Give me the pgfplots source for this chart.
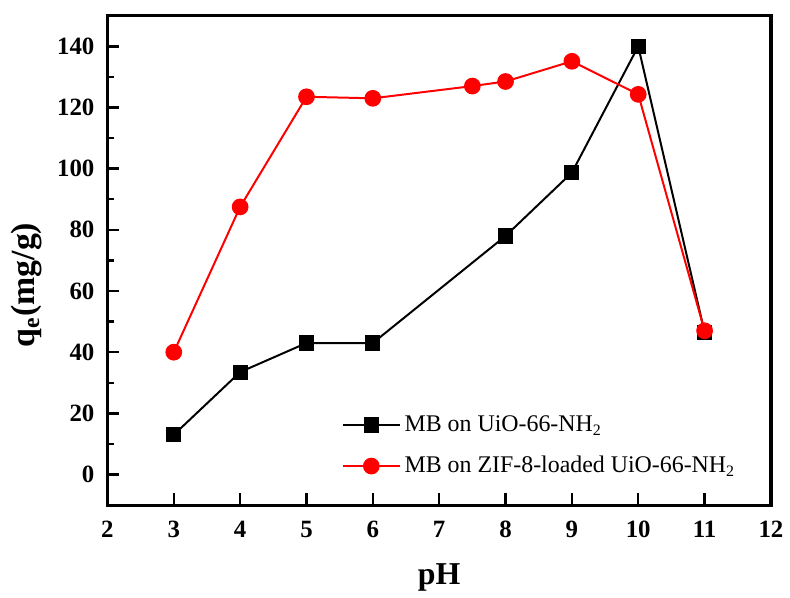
\documentclass[border=0pt]{standalone}
\usepackage{fontspec}
\setmainfont{Liberation Serif}
\usepackage{pgfplots}
\pgfplotsset{compat=1.18}
\begin{document}
\begin{tikzpicture}
\begin{axis}[
  scale only axis,
  width=333.5pt, height=246pt,
  xmin=2, xmax=12, ymin=-10, ymax=150,
  xtick={2,3,...,12},
  ytick={0,20,...,140},
  minor y tick num=1,
  axis line style={line width=1.6pt},
  tick style={line width=1.2pt, black},
  major tick length=6pt, minor tick length=3.5pt,
  tick align=inside,
  xtick pos=bottom, ytick pos=left,
  /pgf/number format/assume math mode=true,
  ticklabel style={font=\bfseries\fontsize{12.5}{14}\selectfont},
  xticklabel style={yshift=-4.5pt},
  yticklabel style={xshift=-3pt},
  xlabel={\textbf{pH}},
  ylabel={\textbf{q\textsubscript{e}(mg/g)}},
  xlabel style={font=\fontsize{16}{18}\selectfont, yshift=-6pt},
  ylabel style={font=\fontsize{17}{19}\selectfont, at={(ticklabel cs:0.45)}, yshift=1pt},
  legend style={draw=none, fill=none, at={(rel axis cs:0.344,0.2)}, anchor=north west,
    font=\fontsize{12}{14}\selectfont, row sep=7pt},
  legend cell align=left,
  legend image code/.code={\draw[mark repeat=2,mark phase=2] plot coordinates {(0cm,0cm) (0.5cm,0cm) (1cm,0cm)};},
]
\addplot[black, line width=1pt, mark=square*, mark size=3.3pt] coordinates {
(3,13) (4,33.5) (5,43) (6,43) (8,78) (9,98.7) (10,140) (11,46.5)};
\addlegendentry{MB on UiO-66-NH\textsubscript{2}}
\addplot[red, line width=1pt, mark=*, mark size=3.7pt] coordinates {
(3,40) (4,87.5) (5,123.5) (6,123) (7.5,127) (8,128.5) (9,135.1) (10,124.3) (11,47)};
\addlegendentry{MB on ZIF-8-loaded UiO-66-NH\textsubscript{2}}
\end{axis}
\useasboundingbox (current axis.south west) ++(-54pt,-42.6pt) rectangle ([xshift=7.5pt,yshift=7.9pt]current axis.north east);
\end{tikzpicture}
\end{document}
